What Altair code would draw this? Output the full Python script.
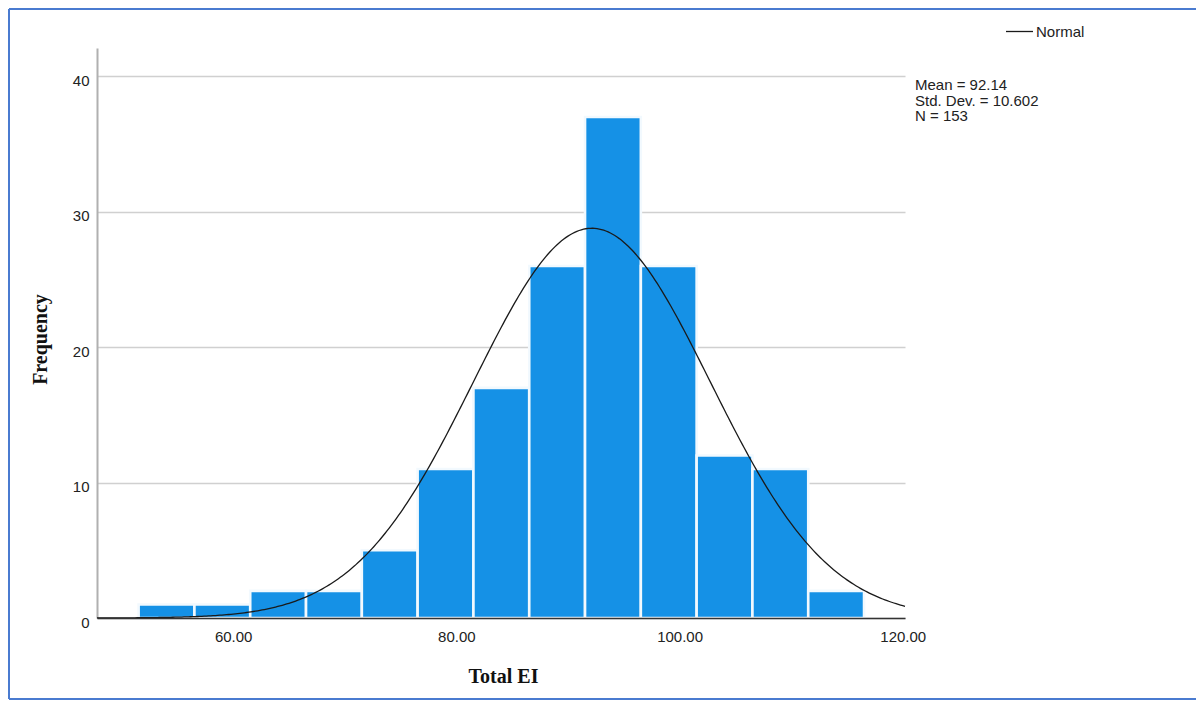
import altair as alt
import pandas as pd

# ---- data ----
bin_starts = [51.53, 56.53, 61.53, 66.53, 71.53, 76.53, 81.53, 86.53, 91.53, 96.53, 101.53, 106.53, 111.53]
counts = [1, 1, 2, 2, 5, 11, 17, 26, 37, 26, 12, 11, 2]
bin_width = 5
mean = 92.14
std_dev = 10.602
n_total = 153
x_ticks = [60, 80, 100, 120]
y_ticks = [0, 10, 20, 30, 40]
x_domain = [47.8, 120.2]
y_domain = [0, 42.1]
stat_lines = ["Mean = 92.14", "Std. Dev. = 10.602", "N = 153"]
legend_label = "Normal"

bars_df = pd.DataFrame({"start": bin_starts, "count": counts})
bars_df["end"] = bars_df["start"] + bin_width

W, H = 808, 570
SANS = "Liberation Sans"
SERIF = "Liberation Serif"
FRAME = "#4a7bd0"

xscale = alt.Scale(domain=x_domain, nice=False, zero=False)
yscale = alt.Scale(domain=y_domain, nice=False)

x_axis = alt.Axis(
    values=x_ticks, format=".2f", title="Total EI", grid=False, ticks=False, tickSize=0,
    labelPadding=11, labelFont=SANS, labelFontSize=15, labelColor="#222222",
    domainColor="#333333", domainWidth=1.5, zindex=1,
    titleFont=SERIF, titleFontWeight="bold", titleFontSize=20, titleColor="#111111",
    titleX=406, titleY=64, titleBaseline="alphabetic", titleAlign="center",
)
y_axis = alt.Axis(
    values=y_ticks, title="Frequency", grid=True, gridColor="#d0d0d0", gridWidth=1.5,
    ticks=False, tickSize=0, labelPadding=8, labelOffset=4, labelFont=SANS, labelFontSize=15,
    labelColor="#222222", domainColor="#b0b0b0", domainWidth=2,
    titleFont=SERIF, titleFontWeight="bold", titleFontSize=20, titleColor="#111111",
    titleAngle=270, titleX=-50.5, titleY=291, titleBaseline="alphabetic", titleAlign="center",
)

bars = alt.Chart(bars_df).mark_rect(color="#1591e6", stroke="#f2f9fe", strokeWidth=2.6).encode(
    x=alt.X("start:Q", scale=xscale, axis=x_axis),
    x2="end:Q",
    y=alt.Y("count:Q", scale=yscale, axis=y_axis),
    y2=alt.datum(0),
)

density_expr = (
    f"{n_total}*{bin_width}/({std_dev}*sqrt(2*PI))"
    f"*exp(-0.5*pow((datum.x-{mean})/{std_dev},2))"
)
curve = (
    alt.Chart(alt.sequence(x_domain[0], x_domain[1] + 0.01, 0.2, as_="x"))
    .transform_calculate(density=density_expr, series=f"'{legend_label}'")
    .mark_line(strokeWidth=1.3)
    .encode(
        x=alt.X("x:Q", scale=xscale),
        y=alt.Y("density:Q", scale=yscale),
        color=alt.Color(
            "series:N",
            scale=alt.Scale(domain=[legend_label], range=["#1a1a1a"]),
            legend=alt.Legend(
                title=None, orient="none", legendX=908, legendY=-31, symbolType="stroke",
                symbolSize=729, symbolStrokeWidth=1.3, labelFont=SANS, labelFontSize=15,
                labelColor="#222222", padding=0, labelOffset=2,
            ),
        ),
    )
)

stats = alt.Chart(alt.Data(values=[{"t": "\n".join(stat_lines)}])).mark_text(
    align="left", baseline="top", lineBreak="\n", font=SANS, fontSize=15,
    lineHeight=15.5, color="#222222",
).encode(x=alt.value(818), y=alt.value(30), text="t:N")

frame_data = alt.Data(values=[{"a": 1}])
frame_left = alt.Chart(frame_data).mark_rule(color=FRAME, strokeWidth=2).encode(
    x=alt.value(-88), y=alt.value(-39), y2=alt.value(651)
)
frame_top = alt.Chart(frame_data).mark_rule(color=FRAME, strokeWidth=2).encode(
    x=alt.value(-88), x2=alt.value(1110), y=alt.value(-39)
)
frame_bottom = alt.Chart(frame_data).mark_rule(color=FRAME, strokeWidth=2).encode(
    x=alt.value(-88), x2=alt.value(1110), y=alt.value(651)
)

chart = (
    alt.layer(frame_left, frame_top, frame_bottom, bars, curve, stats)
    .properties(
        width=W, height=H,
        padding={"left": 89, "top": 40, "right": 291, "bottom": 82},
        autosize=alt.AutoSizeParams(type="none"),
        background="white",
    )
    .configure_view(stroke="transparent")
)

chart.save("out.html", embed_options={"renderer": "svg", "actions": False})
